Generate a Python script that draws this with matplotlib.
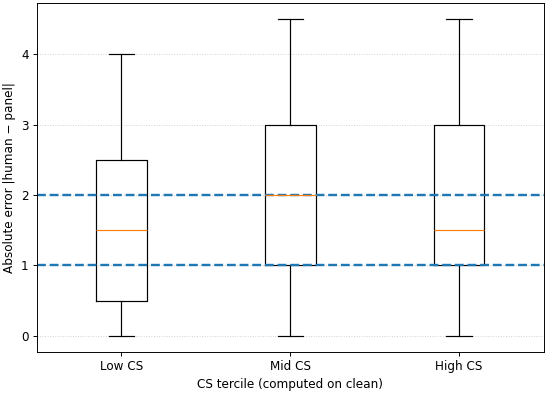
import matplotlib
matplotlib.use("Agg")
import matplotlib.pyplot as plt

categories = ["Low CS", "Mid CS", "High CS"]
whislo = [0.0, 0.0, 0.0]
q1 = [0.5, 1.0, 1.0]
med = [1.5, 2.0, 1.5]
q3 = [2.5, 3.0, 3.0]
whishi = [4.0, 4.5, 4.5]
ref_lines = [1.0, 2.0]

stats = [dict(label=c, whislo=a, q1=b, med=m, q3=d, whishi=e, fliers=[])
         for c, a, b, m, d, e in zip(categories, whislo, q1, med, q3, whishi)]

DPI = 86
fig, ax = plt.subplots(figsize=(550 / DPI, 393 / DPI), dpi=DPI)
ax.bxp(stats, showfliers=False)
for y in ref_lines:
    ax.axhline(y, color="tab:blue", linestyle="--", linewidth=2)
ax.grid(axis="y", linestyle=":", alpha=0.6)
ax.set_xlabel("CS tercile (computed on clean)")
ax.set_ylabel("Absolute error |human − panel|")
fig.subplots_adjust(left=37 / 550, right=543.5 / 550, top=1 - 3.3 / 393, bottom=1 - 351.7 / 393)
fig.savefig("out.png", dpi=DPI)
